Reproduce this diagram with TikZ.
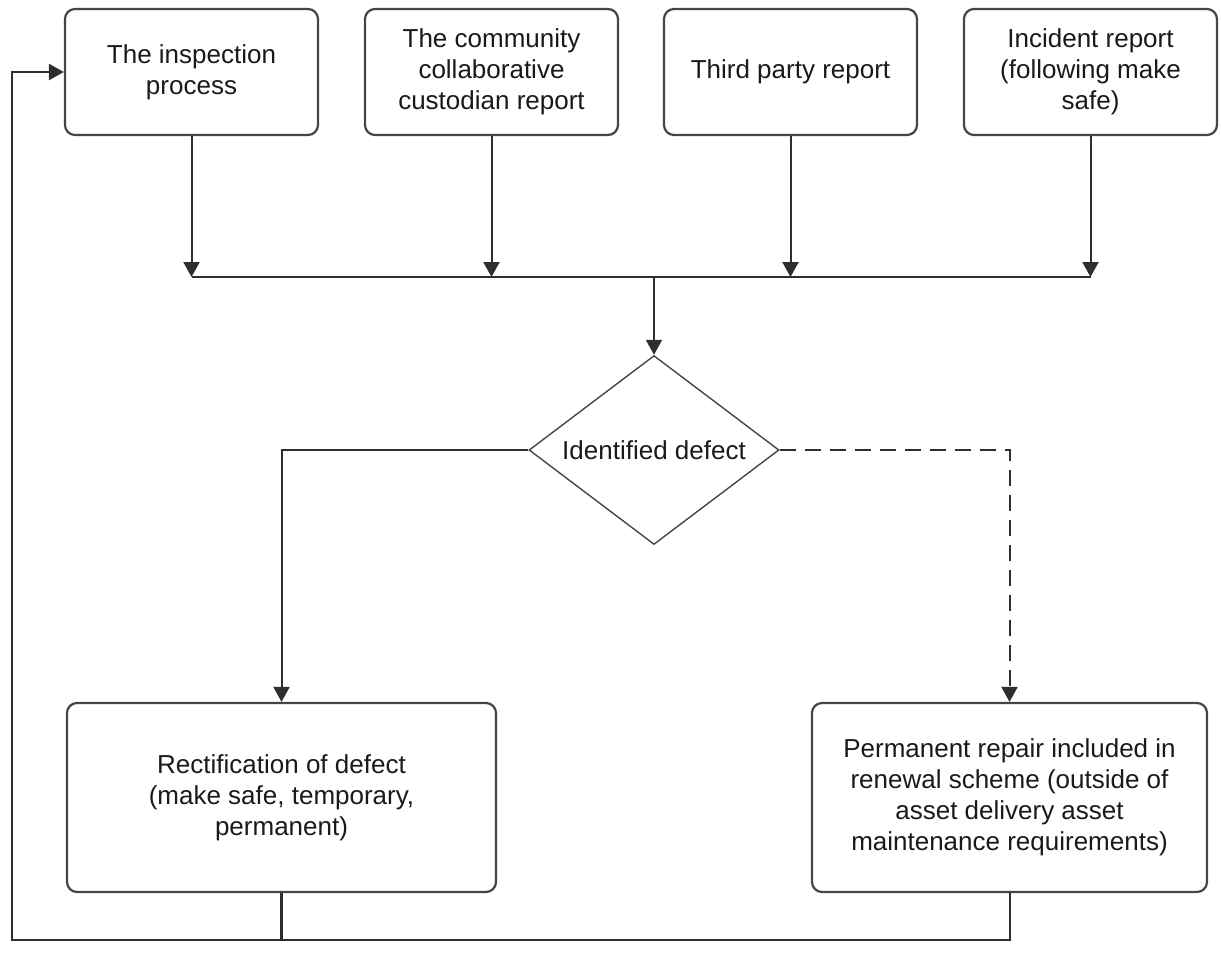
\documentclass[tikz,border=0pt]{standalone}
\usepackage{fontspec}
\setmainfont{Liberation Sans}
\usetikzlibrary{arrows.meta,shapes.geometric}
\definecolor{linec}{HTML}{2E2E2E}
\definecolor{boxc}{HTML}{454545}
\definecolor{txtc}{HTML}{1A1A1A}
\begin{document}
\begin{tikzpicture}[x=0.5pt,y=-0.5pt,
  box/.style={draw=boxc,line width=1.1pt,rounded corners=5pt,fill=white,
    align=center,text=txtc,font=\fontsize{13}{15.5}\selectfont,inner sep=2pt},
  topbox/.style={box,minimum width=126.5pt,minimum height=63pt},
  decide/.style={draw=boxc,line width=0.7pt,shape=diamond,aspect=1.32,
    minimum width=125pt,minimum height=94.5pt,inner sep=1pt,
    text=txtc,font=\fontsize{13}{15.5}\selectfont},
  conn/.style={draw=linec,line width=1pt},
  arr/.style={conn,-{Triangle[length=7.5pt,width=8pt]}},
]
\useasboundingbox (0,0) rectangle (1221,955);
\node[topbox] (b1) at (191.5,72) {The inspection\\process};
\node[topbox] (b2) at (491.5,72) {The community\\collaborative\\custodian report};
\node[topbox] (b3) at (790.5,72) {Third party report};
\node[topbox] (b4) at (1090.5,72) {Incident report\\(following make\\safe)};
\coordinate (hub) at (654,277);
\node[decide] (dia) at (654,450) {Identified defect};
\node[box,minimum width=214.5pt,minimum height=94.5pt] (rect) at (281.5,797.5)
  {Rectification of defect\\(make safe, temporary,\\permanent)};
\node[box,minimum width=197.5pt,minimum height=94.5pt] (perm) at (1009.5,797.5)
  {Permanent repair included in\\renewal scheme (outside of\\asset delivery asset\\maintenance requirements)};
\coordinate (loopbot) at (281.5,940);
\coordinate (loopleft) at (12,940);

\foreach \b in {b1,b2,b3,b4}
  \draw[arr] (\b.south) -- (\b.south |- hub);
\draw[conn] (b1.south |- hub) -- (b4.south |- hub);
\draw[arr] (hub) -- (dia.north);
\draw[arr] (dia.west) -| (rect.north);
\draw[arr,dash pattern=on 8pt off 4.5pt] (dia.east) -| (perm.north);
\draw[conn] (perm.south) |- (loopbot);
\draw[arr,line width=1.2pt] (rect.south) -- (loopbot) -- (loopleft) |- (b1.west);
\end{tikzpicture}
\end{document}
